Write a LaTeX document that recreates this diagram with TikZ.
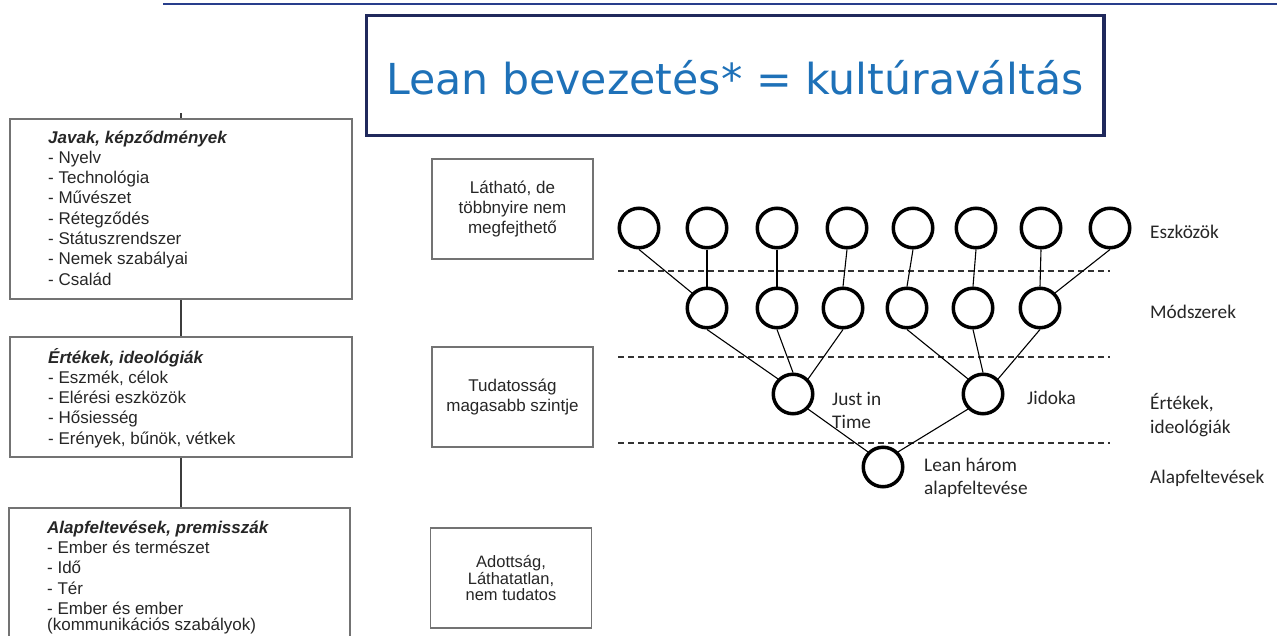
\documentclass[tikz,border=0pt]{standalone}
\usepackage{fontspec}
\newfontfamily\arialf{Liberation Sans}
\newfontfamily\calib{Carlito}
\newfontfamily\verd{DejaVu Sans}
\definecolor{titleblue}{RGB}{30,113,184}
\definecolor{navy}{RGB}{32,41,92}
\definecolor{topblue}{RGB}{40,62,140}
\definecolor{boxgrey}{RGB}{115,115,115}
\definecolor{textgrey}{RGB}{38,38,38}
\definecolor{linkgrey}{RGB}{60,60,60}
\begin{document}
\begin{tikzpicture}[x=1pt,y=-1pt,
  leftbox/.style={draw=boxgrey, line width=1.8pt, rectangle, inner sep=0pt},
  leftline/.style={font=\arialf\fontsize{17}{20.3}\selectfont, text=textgrey, anchor=base west, inner sep=0pt},
  leftlink/.style={draw=linkgrey, line width=2pt},
  midbox/.style={draw=boxgrey, line width=1.8pt, rectangle, minimum width=161pt, minimum height=100pt,
    inner sep=0pt, align=center, font=\arialf\fontsize{17}{20.3}\selectfont, text=textgrey},
  ring/.style={circle, draw=black, line width=3.5pt, minimum size=39.5pt, inner sep=0pt},
  link/.style={draw=black, line width=1.1pt},
  levelline/.style={draw=black!80, line width=1.1pt, dash pattern=on 6pt off 4pt},
  lbl/.style={font=\calib\fontsize{19.3}{23.3}\selectfont, text=black!85, anchor=base west, inner sep=0pt}
]
\useasboundingbox (0,0) rectangle (1277,635);
\clip (0,0) rectangle (1277,635);

% top rule
\coordinate (tl) at (163,4);
\coordinate (tr) at (1277,4);
\draw[topblue, line width=1.5pt] (tl) -- (tr);

% title
\node[draw=navy, line width=3.5pt, rectangle, minimum width=737.5pt, minimum height=120pt, inner sep=0pt] (titlebox) at (735,75.3) {};
\node[font=\verd\fontsize{42.7}{50}\selectfont, text=titleblue, anchor=base, inner sep=0pt] (title) at (735,94) {Lean bevezetés* = kultúraváltás};

% left boxes
\node[leftbox, minimum width=342pt, minimum height=180pt] (box1) at (181,209) {};
\node[leftbox, minimum width=342pt, minimum height=120pt] (box2) at (181,397) {};
\node[leftbox, minimum width=341pt, minimum height=172pt] (box3) at (179.5,594) {};
\coordinate (tick) at (181,113);
\draw[leftlink] (tick) -- (box1.north);
\draw[leftlink] (box1.south) -- (box2.north);
\draw[leftlink] (box2.south) -- (box2.south |- box3.north);

\foreach \t [count=\i from 0] in {{\bfseries\itshape Javak, képződmények},{- Nyelv},{- Technológia},{- Művészet},{- Rétegződés},{- Státuszrendszer},{- Nemek szabályai},{- Család}}
  \node[leftline] (ta\i) at (48,{143+20.3*\i}) {\t};
\foreach \t [count=\i from 0] in {{\bfseries\itshape Értékek, ideológiák},{- Eszmék, célok},{- Elérési eszközök},{- Hősiesség},{- Erények, bűnök, vétkek}}
  \node[leftline] (tb\i) at (48,{363+20.3*\i}) {\t};
\foreach \t [count=\i from 0] in {{\bfseries\itshape Alapfeltevések, premisszák},{- Ember és természet},{- Idő},{- Tér},{- Ember és ember}}
  \node[leftline] (tc\i) at (47,{533.5+20.2*\i}) {\t};
\node[leftline] (tc5) at (47,630.5) {(kommunikációs szabályok)};

% middle boxes
\node[midbox] (vis) at (512.5,209) {Látható, de\\többnyire nem\\megfejthető};
\node[midbox] (tud) at (512.5,397) {Tudatosság\\magasabb szintje};
\node[midbox, font=\arialf\fontsize{16.5}{16.5}\selectfont] (adott) at (511,578) {Adottság,\\Láthatatlan,\\nem tudatos};

% dashed level lines
\foreach \y [count=\k] in {271,357,443} {
  \coordinate (dl\k) at (618,\y);
  \coordinate (dr\k) at (1110,\y);
  \draw[levelline] (dl\k) -- (dr\k);
}

% circles
\foreach \x [count=\i] in {639,707,777,847,913,976,1041,1110}
  \node[ring] (e\i) at (\x,228) {};
\foreach \x [count=\i] in {707,777,843,907,973,1040}
  \node[ring] (m\i) at (\x,308) {};
\node[ring] (jit) at (793,394) {};
\node[ring] (jid) at (983,394) {};
\node[ring] (lean) at (883,467) {};

% links
\draw[link] (e1.south) -- (m1.north west);
\draw[link] (e2.south) -- (m1.north);
\draw[link] (e3.south) -- (m2.north);
\draw[link] (e4.south) -- (m3.north);
\draw[link] (e5.south) -- (m4.north);
\draw[link] (e6.south) -- (m5.north);
\draw[link] (e7.south) -- (m6.north);
\draw[link] (e8.south) -- (m6.north east);
\draw[link] (m1.south) -- (jit.north west);
\draw[link] (m2.south) -- (jit.north);
\draw[link] (m3.south) -- (jit.north east);
\draw[link] (m4.south) -- (jid.north west);
\draw[link] (m5.south) -- (jid.north);
\draw[link] (m6.south) -- (jid.north east);
\draw[link] (jit.south east) -- (lean.north west);
\draw[link] (jid.south west) -- (lean.north east);

% node labels
\node[lbl] (jitl1) at (832,405) {Just in};
\node[lbl] (jitl2) at (832,428) {Time};
\node[lbl] (jidl) at (1027,404) {Jidoka};
\node[lbl] (leanl1) at (924,471) {Lean három};
\node[lbl] (leanl2) at (924,494) {alapfeltevése};

% level labels
\node[lbl] (lv1) at (1150,238) {Eszközök};
\node[lbl] (lv2) at (1150,318) {Módszerek};
\node[lbl] (lv3a) at (1150,409) {Értékek,};
\node[lbl] (lv3b) at (1150,433) {ideológiák};
\node[lbl] (lv4) at (1150,483) {Alapfeltevések};
\end{tikzpicture}
\end{document}
